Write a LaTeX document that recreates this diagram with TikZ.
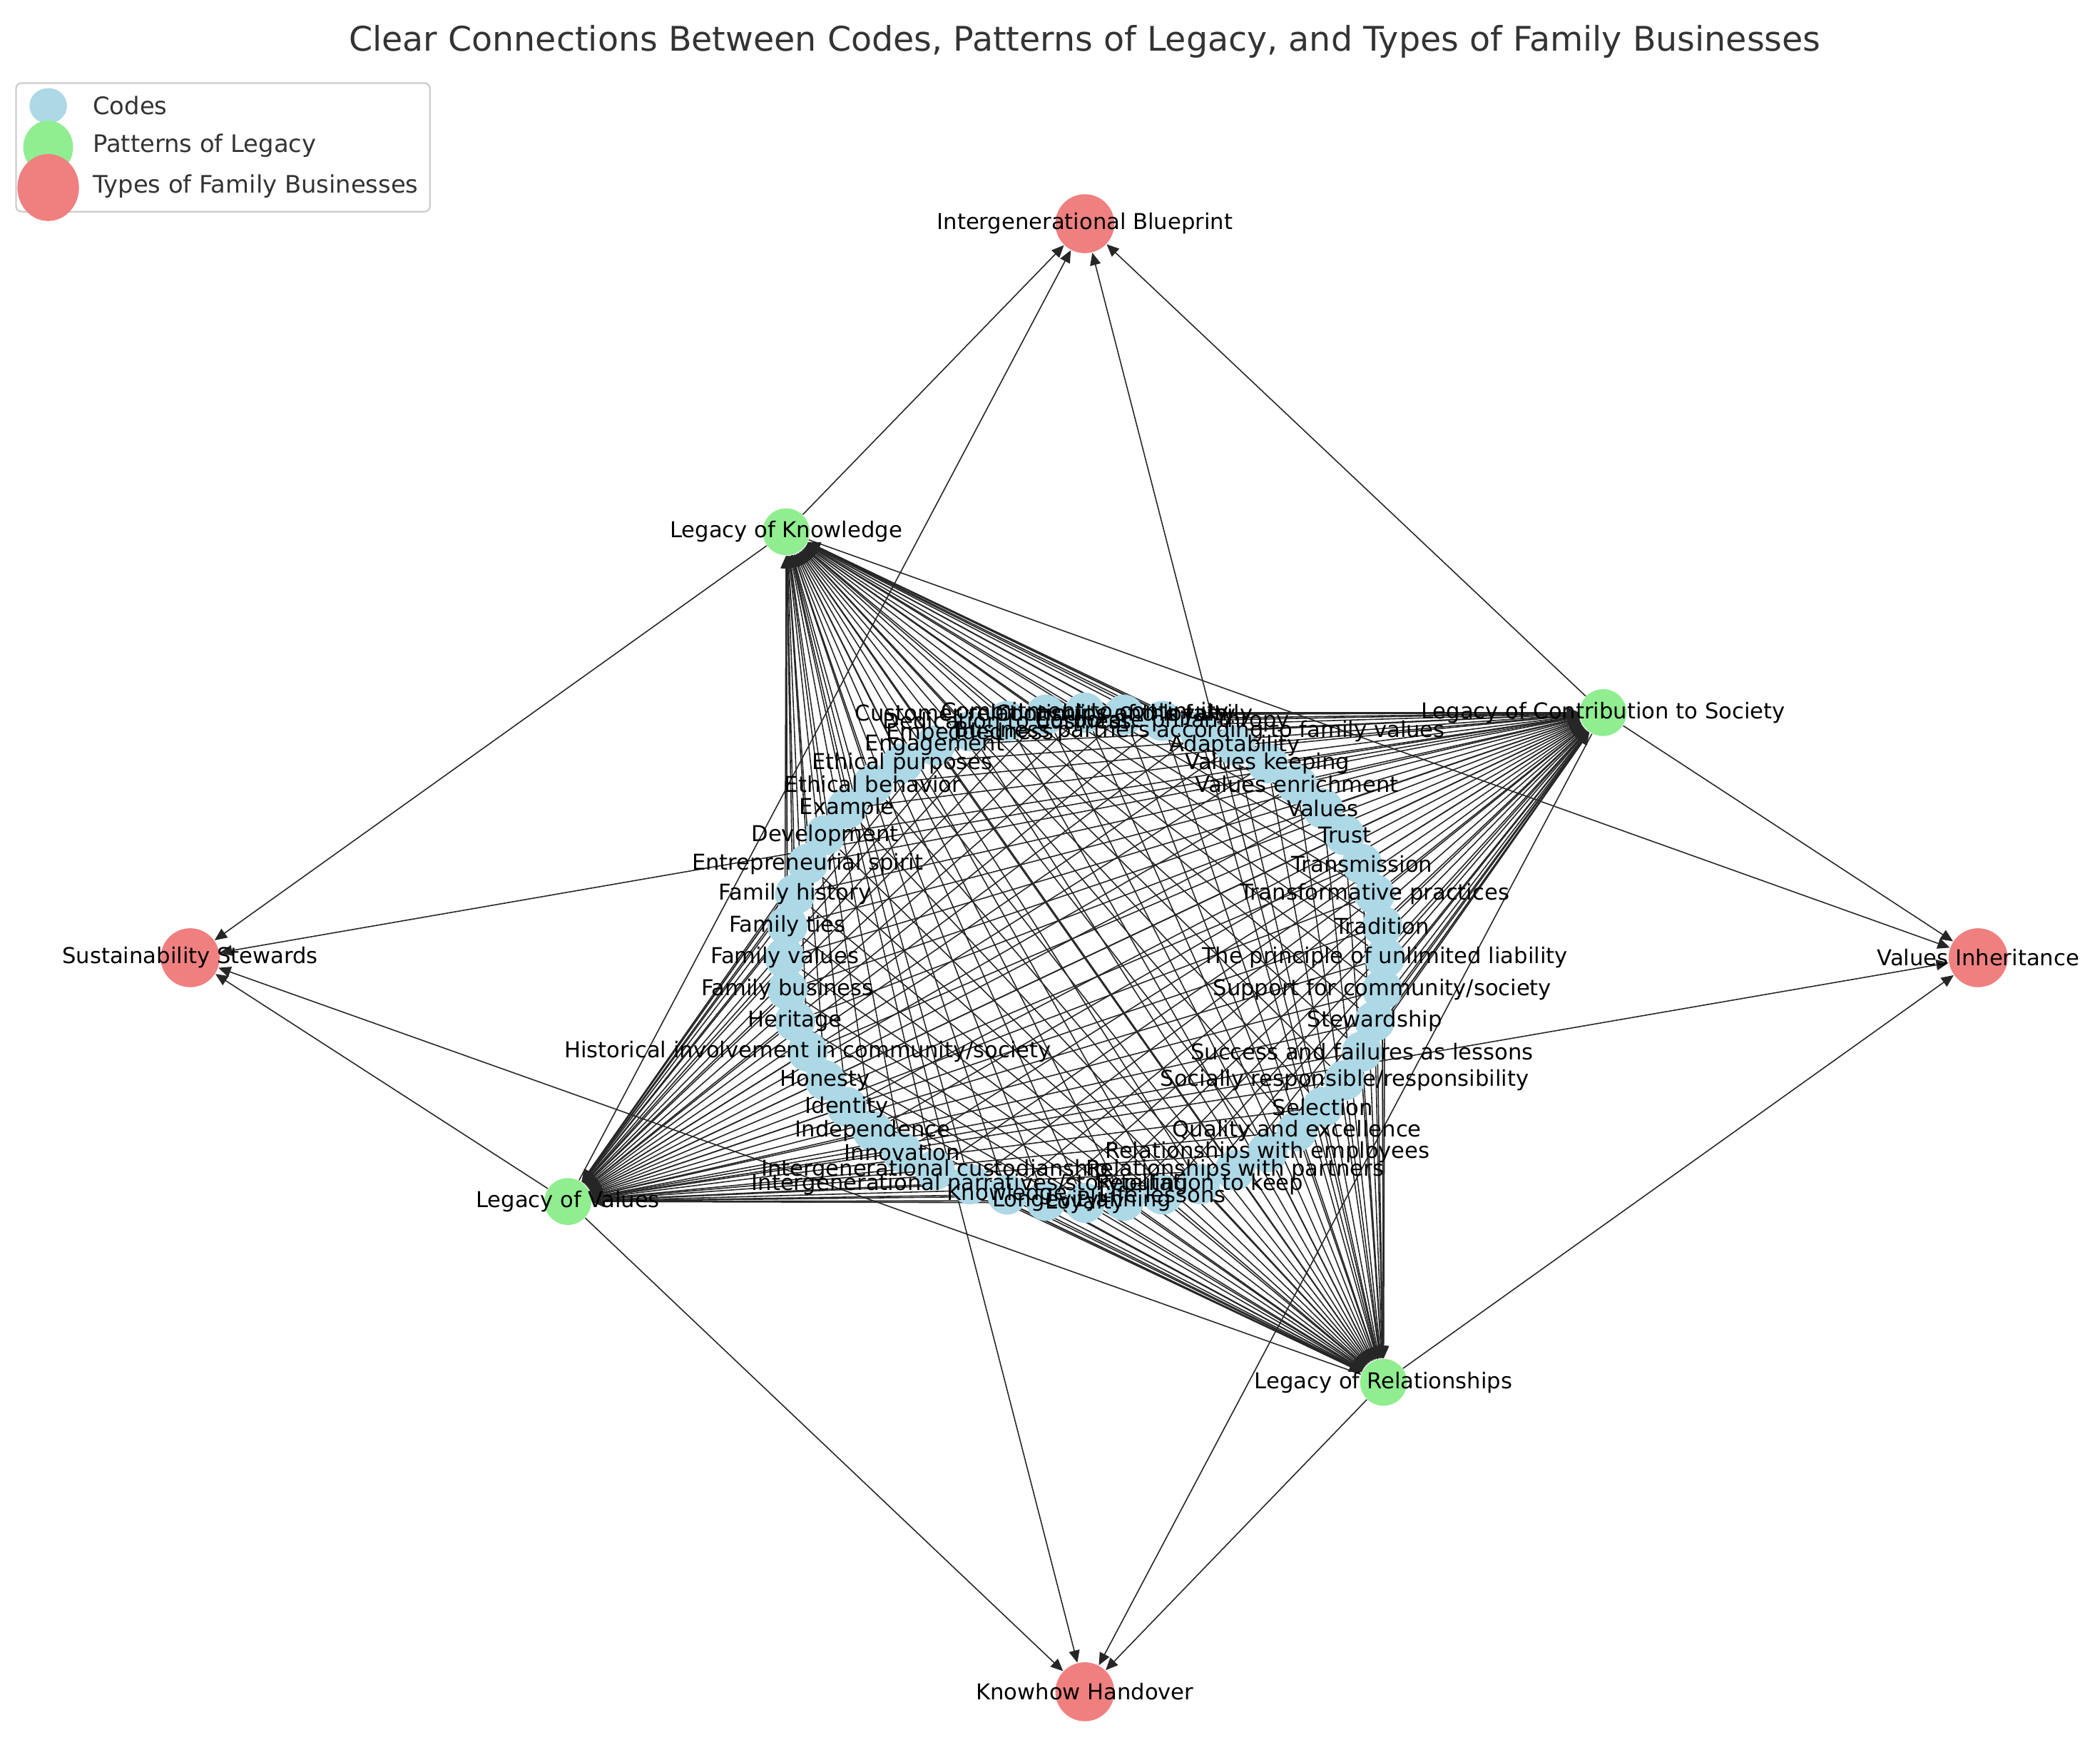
\documentclass[tikz,border=0pt]{standalone}
\usepackage{fontspec}
\setmainfont{DejaVu Sans}
\usetikzlibrary{arrows.meta}
\pgfdeclarelayer{edges}
\pgfdeclarelayer{labels}
\pgfsetlayers{edges,main,labels}
\definecolor{codeblue}{RGB}{173,216,230}
\definecolor{patgreen}{RGB}{144,238,144}
\definecolor{typered}{RGB}{240,128,128}
\definecolor{titlegray}{RGB}{51,51,51}
\begin{document}
\begin{tikzpicture}[x=0.5pt,y=-0.5pt,
  codenode/.style={circle,fill=codeblue,minimum size=15pt,inner sep=0pt},
  patnode/.style={circle,fill=patgreen,minimum size=17.5pt,inner sep=0pt},
  typenode/.style={circle,fill=typered,minimum size=22pt,inner sep=0pt},
  lbl/.style={font=\fontsize{8.15}{9}\selectfont,text=black,inner sep=0pt},
  legtxt/.style={font=\fontsize{9}{10}\selectfont,text=titlegray,inner sep=0pt,anchor=west},
  edge/.style={draw=black!85,line width=0.42pt,-{Triangle[length=4.6pt,width=4pt]}},
]
\useasboundingbox (0,0) rectangle (1568,1306);

% title
\node[font=\fontsize{12.65}{15}\selectfont,text=titlegray,inner sep=0pt] (title) at (810,31)
  {Clear Connections Between Codes, Patterns of Legacy, and Types of Family Businesses};

% code nodes on an ellipse
\foreach \i in {0,...,47} {
  \node[codenode] (c\i) at ({810+224*cos(7.5*\i)},{715-183*sin(7.5*\i)}) {};
}

% patterns of legacy
\node[patnode] (LK) at (587,397) {};
\node[patnode] (LC) at (1197,532) {};
\node[patnode] (LR) at (1033,1032) {};
\node[patnode] (LV) at (424,897) {};

% types of family businesses
\node[typenode] (IB) at (810,167) {};
\node[typenode] (VI) at (1477,715) {};
\node[typenode] (KH) at (810,1263) {};
\node[typenode] (SS) at (142,715) {};

% edges
\begin{pgfonlayer}{edges}
\foreach \i in {0,...,47} {
  \foreach \p in {LK,LC,LR,LV} {
    \draw[edge] (c\i) -- (\p);
  }
}
\foreach \p in {LK,LC,LR,LV} {
  \foreach \t in {IB,VI,KH,SS} {
    \draw[edge] (\p) -- (\t);
  }
}
\end{pgfonlayer}

% labels
\begin{pgfonlayer}{labels}
\node[lbl] (t0) at (c0) {The principle of unlimited liability};
\node[lbl] (t1) at (c1) {Tradition};
\node[lbl] (t2) at (c2) {Transformative practices};
\node[lbl] (t3) at (c3) {Transmission};
\node[lbl] (t4) at (c4) {Trust};
\node[lbl] (t5) at (c5) {Values};
\node[lbl] (t6) at (c6) {Values enrichment};
\node[lbl] (t7) at (c7) {Values keeping};
\node[lbl] (t8) at (c8) {Adaptability};
\node[lbl] (t9) at (c9) {Business partners according to family values};
\node[lbl] (t10) at (c10) {Corporate philanthropy};
\node[lbl] (t11) at (c11) {Continuity of the family};
\node[lbl] (t12) at (c12) {Commitment to continuity};
\node[lbl] (t13) at (c13) {Customer relationships and loyalty};
\node[lbl] (t14) at (c14) {Dedication to business};
\node[lbl] (t15) at (c15) {Embeddedness};
\node[lbl] (t16) at (c16) {Engagement};
\node[lbl] (t17) at (c17) {Ethical purposes};
\node[lbl] (t18) at (c18) {Ethical behavior};
\node[lbl] (t19) at (c19) {Example};
\node[lbl] (t20) at (c20) {Development};
\node[lbl] (t21) at (c21) {Entrepreneurial spirit};
\node[lbl] (t22) at (c22) {Family history};
\node[lbl] (t23) at (c23) {Family ties};
\node[lbl] (t24) at (c24) {Family values};
\node[lbl] (t25) at (c25) {Family business};
\node[lbl] (t26) at (c26) {Heritage};
\node[lbl] (t27) at (c27) {Historical involvement in community/society};
\node[lbl] (t28) at (c28) {Honesty};
\node[lbl] (t29) at (c29) {Identity};
\node[lbl] (t30) at (c30) {Independence};
\node[lbl] (t31) at (c31) {Innovation};
\node[lbl] (t32) at (c32) {Intergenerational custodianship};
\node[lbl] (t33) at (c33) {Intergenerational narratives/storytelling};
\node[lbl] (t34) at (c34) {Knowledge};
\node[lbl] (t35) at (c35) {Longevity};
\node[lbl] (t36) at (c36) {Loyalty};
\node[lbl] (t37) at (c37) {Planning};
\node[lbl] (t38) at (c38) {Life lessons};
\node[lbl] (t39) at (c39) {Reputation to keep};
\node[lbl] (t40) at (c40) {Relationships with partners};
\node[lbl] (t41) at (c41) {Relationships with employees};
\node[lbl] (t42) at (c42) {Quality and excellence};
\node[lbl] (t43) at (c43) {Selection};
\node[lbl] (t44) at (c44) {Socially responsible/responsibility};
\node[lbl] (t45) at (c45) {Success and failures as lessons};
\node[lbl] (t46) at (c46) {Stewardship};
\node[lbl] (t47) at (c47) {Support for community/society};

\node[lbl] (tLK) at (LK) {Legacy of Knowledge};
\node[lbl] (tLC) at (LC) {Legacy of Contribution to Society};
\node[lbl] (tLR) at (LR) {Legacy of Relationships};
\node[lbl] (tLV) at (LV) {Legacy of Values};
\node[lbl] (tIB) at (IB) {Intergenerational Blueprint};
\node[lbl] (tVI) at (VI) {Values Inheritance};
\node[lbl] (tKH) at (KH) {Knowhow Handover};
\node[lbl] (tSS) at (SS) {Sustainability Stewards};

% legend
\draw[draw=black!20,fill=white,line width=0.6pt,rounded corners=2pt] (12,62) rectangle (321,158);
\fill[codeblue] (36,79) ellipse [x radius=7pt,y radius=6.6pt];
\fill[patgreen] (36,110) ellipse [x radius=9.3pt,y radius=10pt];
\fill[typered] (36,140) ellipse [x radius=11.5pt,y radius=12.5pt];
\node[legtxt] (lg1) at (69,79) {Codes};
\node[legtxt] (lg2) at (69,109) {Patterns of Legacy};
\node[legtxt] (lg3) at (69,139) {Types of Family Businesses};
\end{pgfonlayer}
\end{tikzpicture}
\end{document}
